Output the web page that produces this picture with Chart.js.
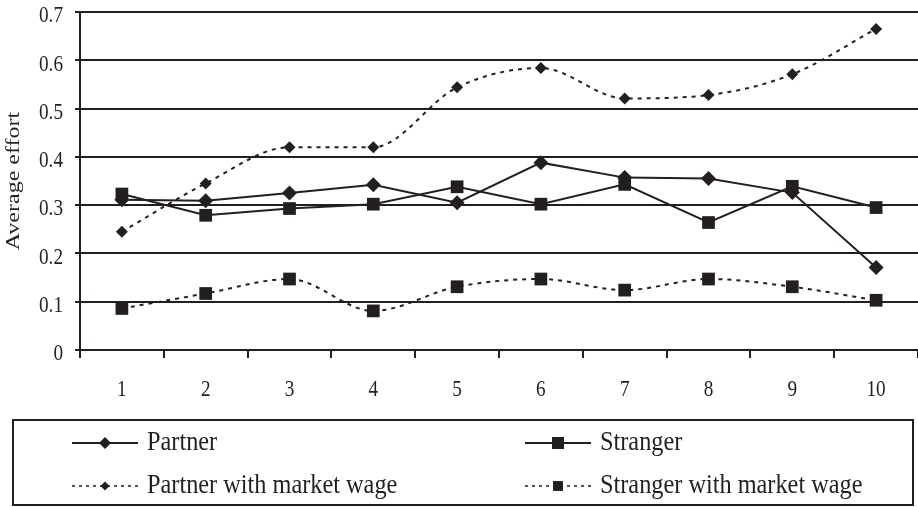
<!DOCTYPE html>
<html>
<head>
<meta charset="utf-8">
<script src="https://cdn.jsdelivr.net/npm/chart.js@4.4.1/dist/chart.umd.min.js"></script>
<style>
  html, body { margin: 0; padding: 0; background: #ffffff; }
  canvas { display: block; }
</style>
</head>
<body>
<canvas id="effort" width="918" height="507"></canvas>
<script>
// Periods on the horizontal axis
const periods = ['1', '2', '3', '4', '5', '6', '7', '8', '9', '10'];

// Average effort per period
const partner    = [0.311, 0.309, 0.325, 0.342, 0.305, 0.388, 0.357, 0.355, 0.326, 0.171];
const stranger   = [0.323, 0.279, 0.293, 0.302, 0.338, 0.302, 0.343, 0.264, 0.339, 0.295];
const partnerMW  = [0.245, 0.345, 0.420, 0.420, 0.544, 0.584, 0.521, 0.528, 0.571, 0.665];
const strangerMW = [0.086, 0.117, 0.147, 0.081, 0.131, 0.147, 0.124, 0.147, 0.131, 0.103];

const seriesNames = ['Partner', 'Stranger', 'Partner with market wage', 'Stranger with market wage'];
const yTickLabels = ['0', '0.1', '0.2', '0.3', '0.4', '0.5', '0.6', '0.7'];
const yTitle = 'Average effort';

const INK = '#231f20';
const SERIF = "'Liberation Serif', 'Times New Roman', serif";

const canvas = document.getElementById('effort');
const ctx = canvas.getContext('2d');

// Condensed lettering: every string is squeezed horizontally around its anchor point
let textSqueeze = 0.8;
const baseFillText = CanvasRenderingContext2D.prototype.fillText;
ctx.fillText = function (text, x, y, maxWidth) {
  const m = this.getTransform();
  const p = m.transformPoint(new DOMPoint(x, y));
  this.save();
  this.setTransform(new DOMMatrix()
    .translate(p.x, p.y).scale(textSqueeze, 1).translate(-p.x, -p.y)
    .multiply(m));
  if (maxWidth === undefined) baseFillText.call(this, text, x, y);
  else baseFillText.call(this, text, x, y, maxWidth);
  this.restore();
};

function drawMarker(c, style, r, x, y) {
  c.beginPath();
  if (style === 'rectRot') {
    c.moveTo(x, y - r); c.lineTo(x + r, y); c.lineTo(x, y + r); c.lineTo(x - r, y);
  } else {
    const h = r * Math.SQRT1_2;
    c.rect(x - h, y - h, 2 * h, 2 * h);
  }
  c.closePath();
  c.fill();
}

// Framed two-column legend under the x axis
const boxedLegend = {
  id: 'boxedLegend',
  afterDraw(chart, args, o) {
    const c = chart.ctx;
    c.save();
    c.strokeStyle = INK;
    c.fillStyle = INK;
    c.lineWidth = 2;
    c.strokeRect(o.box.x, o.box.y, o.box.w, o.box.h);
    c.font = o.font;
    c.textAlign = 'left';
    c.textBaseline = 'middle';
    chart.data.datasets.forEach((ds, i) => {
      const x0 = o.columns[i % 2];
      const y = o.rows[Math.floor(i / 2)];
      const dashed = ds.borderDash && ds.borderDash.length > 0;
      c.lineWidth = dashed ? 1.5 : 2;
      c.setLineDash(dashed ? o.dash : []);
      c.beginPath();
      c.moveTo(x0, y);
      c.lineTo(x0 + o.sample, y);
      c.stroke();
      c.setLineDash([]);
      drawMarker(c, ds.pointStyle, o.markerRadius[i], x0 + o.sample / 2, y);
      textSqueeze = o.squeeze;
      c.fillText(ds.label, x0 + o.sample + 9, y);
      textSqueeze = 0.8;
    });
    c.restore();
  }
};

const tickFont = { family: SERIF, size: 24 };

new Chart(ctx, {
  type: 'line',
  data: {
    labels: periods,
    datasets: [
      { label: seriesNames[0], data: partner, pointStyle: 'rectRot', pointRadius: 7.5, tension: 0 },
      { label: seriesNames[1], data: stranger, pointStyle: 'rect', pointRadius: 9, tension: 0 },
      { label: seriesNames[2], data: partnerMW, pointStyle: 'rectRot', pointRadius: 6, borderDash: [4, 5], cubicInterpolationMode: 'monotone' },
      { label: seriesNames[3], data: strangerMW, pointStyle: 'rect', pointRadius: 9, borderDash: [4, 5], cubicInterpolationMode: 'monotone' }
    ].map(ds => Object.assign({
      borderColor: INK,
      backgroundColor: INK,
      pointBackgroundColor: INK,
      pointBorderColor: INK,
      pointBorderWidth: 0,
      borderWidth: 2,
      fill: false
    }, ds))
  },
  options: {
    responsive: false,
    animation: false,
    events: [],
    layout: { autoPadding: false, padding: { top: 12, right: 0, bottom: 0, left: 0 } },
    plugins: {
      legend: { display: false },
      tooltip: { enabled: false },
      boxedLegend: {
        box: { x: 13, y: 420, w: 900, h: 85 },
        columns: [72, 525],
        rows: [443, 486],
        sample: 66,
        dash: [3, 4],
        markerRadius: [6, 8.5, 4.5, 7],
        font: "27px 'Liberation Serif', 'Times New Roman', serif",
        squeeze: 0.9
      }
    },
    scales: {
      x: {
        offset: true,
        grid: { offset: true, drawOnChartArea: false, tickLength: 8, color: INK, lineWidth: 2 },
        border: { color: INK, width: 2 },
        ticks: { color: INK, font: tickFont, padding: 17, maxRotation: 0, autoSkip: false },
        afterFit(s) { s.height = 157; s.paddingLeft = 0; s.paddingRight = 0; }
      },
      y: {
        min: 0,
        max: 0.7,
        ticks: {
          stepSize: 0.1,
          callback: (v, i) => yTickLabels[i],
          color: INK,
          font: tickFont,
          padding: 12,
          labelOffset: 4
        },
        grid: { color: INK, lineWidth: 2, tickLength: 5 },
        border: { color: INK, width: 2 },
        title: { display: true, text: yTitle, color: INK, font: tickFont, padding: 0 },
        afterFit(s) { s.width = 80; s.paddingTop = 0; s.paddingBottom = 0; }
      }
    }
  },
  plugins: [boxedLegend]
});
</script>
</body>
</html>
